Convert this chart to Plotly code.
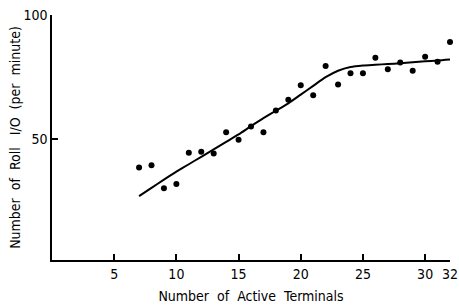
import plotly.graph_objects as go

terminals = [7, 8, 9, 10, 11, 12, 13, 14, 15, 16, 17, 18, 19, 20, 21, 22, 23, 24, 25, 26, 27, 28, 29, 30, 31, 32]
roll_io = [38.7, 39.6, 30.3, 32.1, 44.6, 45.0, 44.3, 52.9, 49.8, 55.2, 52.9, 61.6, 65.9, 71.8, 67.7, 79.5,
           72.1, 76.6, 76.6, 82.8, 78.2, 80.9, 77.6, 83.2, 81.2, 89.1]
fit_x = [7, 8, 9, 10, 11, 12, 13, 14, 15, 16, 17, 18, 19, 20, 21, 22, 23, 24, 25, 26, 27, 28, 29, 30, 31, 32]
fit_y = [27.2, 30.5, 33.8, 37.0, 40.0, 43.0, 46.0, 49.0, 52.0, 55.3, 58.5, 61.5, 64.5, 68.0, 71.5, 75.0,
         77.6, 79.1, 79.7, 80.0, 80.3, 80.6, 81.0, 81.4, 81.7, 82.1]
x_ticks = [5, 10, 15, 20, 25, 30, 32]
y_ticks = [50, 100]

font = "DejaVu Sans Condensed"

fig = go.Figure()
fig.add_trace(go.Scatter(x=fit_x, y=fit_y, mode="lines",
                         line=dict(color="black", width=2, shape="spline", smoothing=0.6),
                         hoverinfo="skip", cliponaxis=False))
fig.add_trace(go.Scatter(x=terminals, y=roll_io, mode="markers",
                         marker=dict(color="black", size=6), cliponaxis=False))

fig.update_layout(
    width=459, height=308,
    margin=dict(l=52, r=9, t=15, b=48),
    paper_bgcolor="white", plot_bgcolor="white",
    showlegend=False,
    font=dict(family=font, size=14, color="black"),
    xaxis=dict(range=[0, 32], tickvals=x_ticks, ticktext=[str(v) for v in x_ticks],
               showgrid=False, zeroline=False, showline=True, linecolor="black", linewidth=1.5,
               ticks="inside", ticklen=6, tickwidth=1.5, tickcolor="black", automargin=False,
               ticklabeloverflow="allow",
               title=dict(text="Number  of  Active  Terminals", standoff=11, font=dict(size=14))),
    yaxis=dict(range=[1.5, 100], tickvals=y_ticks, ticktext=[str(v) for v in y_ticks],
               showgrid=False, zeroline=False, showline=True, linecolor="black", linewidth=1.5,
               ticks="inside", ticklen=6, tickwidth=1.5, tickcolor="black", automargin=False,
               ticklabeloverflow="allow",
               title=dict(text="Number  of  Roll   I/O  (per  minute)", standoff=0, font=dict(size=14))),
)

# remove the browser's default 8px body margin so the figure fills the window
fig.write_html("out.html", config={"displayModeBar": False},
               post_script="document.body.style.margin='0';document.body.style.overflow='hidden';")
